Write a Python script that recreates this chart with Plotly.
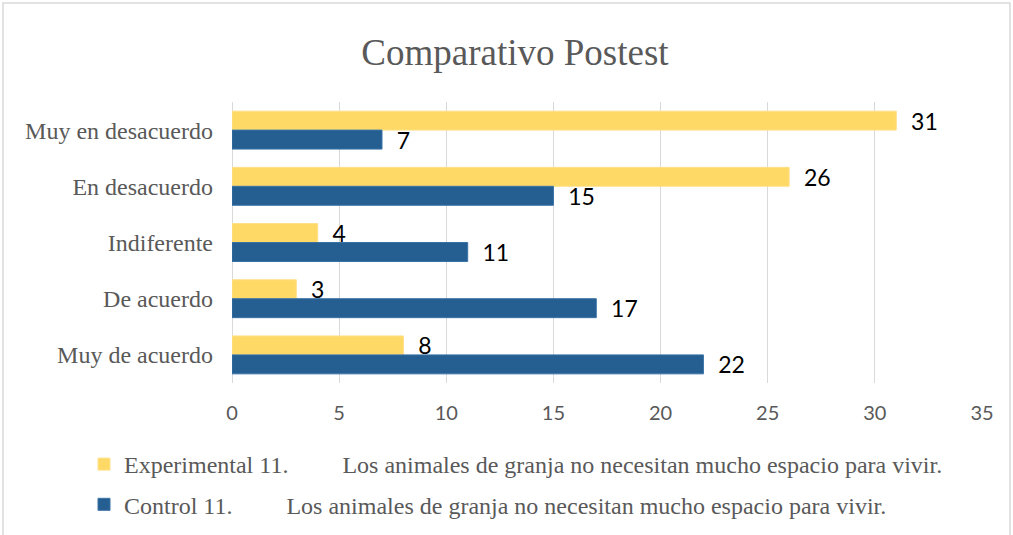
import plotly.graph_objects as go

categories = ["Muy en desacuerdo", "En desacuerdo", "Indiferente", "De acuerdo", "Muy de acuerdo"]
experimental = [31, 26, 4, 3, 8]
control = [7, 15, 11, 17, 22]
gap = "\u00a0" * 9
name_exp = "Experimental 11." + gap + "Los animales de granja no necesitan mucho espacio para vivir."
name_ctl = "Control 11." + gap + "Los animales de granja no necesitan mucho espacio para vivir."
x_ticks = [0, 5, 10, 15, 20, 25, 30, 35]

YELLOW = "#FFD966"
BLUE = "#255E91"
GREY_TXT = "#595959"
GRID = "#D9D9D9"

W, H = 1013, 535
L, R, T, B = 232, 31, 102, 152
pw, ph = W - L - R, H - T - B

def px2x(p):
    return (p - L) / pw

def py2y(p):
    return (H - B - p) / ph

pad = "\u00a0\u00a0"
fig = go.Figure()
fig.add_trace(go.Bar(
    y=categories, x=experimental, orientation="h", name=name_exp,
    marker=dict(color=YELLOW, line=dict(color="#FFE08A", width=1)),
    text=[pad + str(v) for v in experimental], textposition="outside",
    textfont=dict(family="Lato", size=23, color="#000000"),
    constraintext="none", cliponaxis=False, legendgroup="e",
))
fig.add_trace(go.Bar(
    y=categories, x=control, orientation="h", name=name_ctl,
    marker=dict(color=BLUE, line=dict(color="#3A72A6", width=1)),
    text=[pad + str(v) for v in control], textposition="outside",
    textfont=dict(family="Lato", size=23, color="#000000"),
    constraintext="none", cliponaxis=False, legendgroup="c",
))

fig.update_layout(
    width=W, height=H,
    margin=dict(l=L, r=R, t=T, b=B, autoexpand=False),
    paper_bgcolor="white", plot_bgcolor="white",
    barmode="group", bargap=0.325, bargroupgap=0,
    title=dict(text="Comparativo Postest", x=515 / W, xanchor="center",
               y=1 - 52 / H, yanchor="middle", xref="container", yref="container",
               font=dict(family="Liberation Serif", size=37, color=GREY_TXT)),
    xaxis=dict(range=[0, 35], tickvals=x_ticks, showgrid=True, gridcolor=GRID, gridwidth=1,
               zeroline=True, zerolinecolor=GRID, zerolinewidth=1, showline=False,
               ticks="", ticklabelstandoff=16,
               tickfont=dict(family="Lato", size=20, color=GREY_TXT)),
    yaxis=dict(categoryorder="array", categoryarray=categories, range=[4.5, -0.5],
               showgrid=False, zeroline=False, showline=False, ticks="",
               ticklabelstandoff=18,
               tickfont=dict(family="Liberation Serif", size=24, color=GREY_TXT)),
    legend=dict(orientation="v", x=px2x(84), xanchor="left", y=py2y(442), yanchor="top",
                font=dict(family="Liberation Serif", size=24, color=GREY_TXT),
                tracegroupgap=6, traceorder="grouped", bgcolor="rgba(0,0,0,0)"),
    showlegend=True,
    shapes=[dict(type="rect", xref="paper", yref="paper",
                 x0=px2x(3), x1=px2x(1010), y0=py2y(545), y1=py2y(3),
                 line=dict(color=GRID, width=1.5), fillcolor="rgba(0,0,0,0)", layer="below")],
)

fig.write_html("out.html", config={"displayModeBar": False},
               post_script="document.body.style.margin='0px';")
